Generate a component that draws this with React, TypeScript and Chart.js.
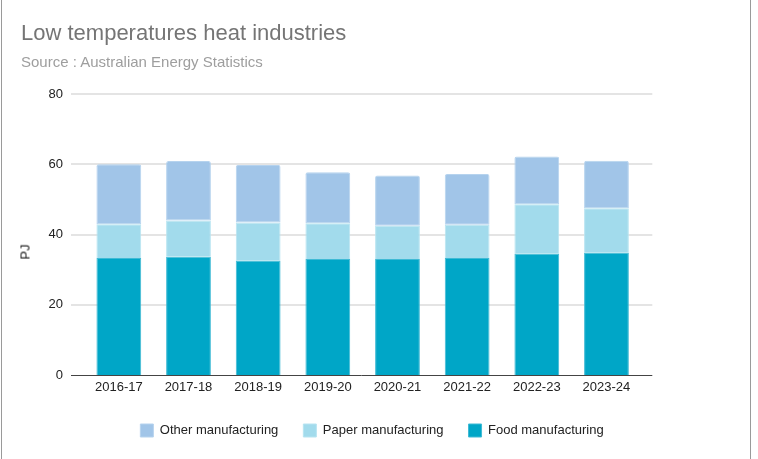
import { useEffect, useRef } from "react";
import { Chart, registerables } from "chart.js";

Chart.register(...registerables);

const years = ["2016-17", "2017-18", "2018-19", "2019-20", "2020-21", "2021-22", "2022-23", "2023-24"];
const food = [33.3, 33.7, 32.6, 33.0, 33.0, 33.3, 34.6, 34.9];
const paper = [9.6, 10.3, 10.8, 10.2, 9.5, 9.5, 14.0, 12.6];
const other = [17.1, 16.9, 16.4, 14.5, 14.3, 14.4, 13.6, 13.5];
const yMax = 80;
const yStep = 20;

const FONT = '"Liberation Sans", Arial, sans-serif';

// horizontal grid lines run a little past the bars on both sides
const gridPlugin = {
  id: "extendedGrid",
  beforeDatasetsDraw(chart: any) {
    const { ctx, chartArea, scales } = chart;
    const y = scales.y;
    ctx.save();
    ctx.strokeStyle = "#e4e4e4";
    ctx.lineWidth = 2;
    y.ticks.forEach((t: any) => {
      if (t.value === 0) return;
      const py = Math.round(y.getPixelForValue(t.value));
      ctx.beginPath();
      ctx.moveTo(chartArea.left - 13, py);
      ctx.lineTo(chartArea.right + 11, py);
      ctx.stroke();
    });
    ctx.restore();
  },
  afterDatasetsDraw(chart: any) {
    const { ctx, chartArea, scales } = chart;
    const py = Math.round(scales.y.getPixelForValue(0)) + 0.5;
    ctx.save();
    ctx.strokeStyle = "#444";
    ctx.lineWidth = 1;
    ctx.beginPath();
    ctx.moveTo(chartArea.left - 13, py);
    ctx.lineTo(chartArea.right + 11, py);
    ctx.stroke();
    ctx.restore();
  },
};

export default function App() {
  const canvasRef = useRef<HTMLCanvasElement>(null);

  useEffect(() => {
    if (!canvasRef.current) return;
    const chart = new Chart(canvasRef.current, {
      type: "bar",
      data: {
        labels: years,
        datasets: [
          {
            label: "Food manufacturing",
            data: food,
            backgroundColor: "#00a6c7",
            borderColor: "#3fbad5",
            borderWidth: 1,
          },
          {
            label: "Paper manufacturing",
            data: paper,
            backgroundColor: "#a2dbec",
            borderColor: "#b8e4f1",
            borderWidth: 1,
          },
          {
            label: "Other manufacturing",
            data: other,
            backgroundColor: "#a1c5e8",
            borderColor: "#b6d3ee",
            borderWidth: 1,
            borderRadius: { topLeft: 2, topRight: 2, bottomLeft: 0, bottomRight: 0 },
            borderSkipped: false,
          },
        ],
      },
      options: {
        animation: false,
        responsive: true,
        maintainAspectRatio: false,
        layout: { padding: { top: 94, bottom: 12, left: 0, right: 8 } },
        datasets: { bar: { categoryPercentage: 1, barPercentage: 0.643 } },
        plugins: {
          tooltip: { enabled: false },
          legend: {
            position: "bottom",
            reverse: true,
            labels: {
              boxWidth: 13,
              boxHeight: 13,
              padding: 25,
              color: "#222",
              font: { family: FONT, size: 13 },
            },
          },
        },
        scales: {
          x: {
            stacked: true,
            grid: { display: false, drawTicks: false },
            border: { display: false },
            ticks: { color: "#222", font: { family: FONT, size: 13 }, padding: 5, maxRotation: 0, autoSkip: false },
            afterFit: (s: any) => { s.height = 24; },
          },
          y: {
            stacked: true,
            min: 0,
            max: yMax,
            grid: { display: false, drawTicks: false },
            border: { display: false },
            ticks: { stepSize: yStep, color: "#222", font: { family: FONT, size: 13 }, padding: 21 },
            afterFit: (s: any) => { s.width = 82; },
          },
          y2: {
            position: "right",
            min: 0,
            max: yMax,
            grid: { display: false, drawTicks: false },
            border: { display: false },
            ticks: { display: false },
            afterFit: (s: any) => { s.width = 100.7; },
          },
        },
      },
      plugins: [gridPlugin],
    });
    return () => chart.destroy();
  }, []);

  return (
    <div style={{ position: "absolute", left: 0, top: 0, width: 758, height: 459, background: "#fff", fontFamily: FONT }}>
      <div
        style={{
          position: "absolute",
          left: 1,
          top: 0,
          width: 750,
          height: 459,
          boxSizing: "border-box",
          borderLeft: "1px solid #9a9a9a",
          borderRight: "1px solid #9a9a9a",
        }}
      >
        <div style={{ position: "absolute", left: 0, top: 0, width: 748, height: 459 }}>
          <canvas ref={canvasRef} />
        </div>
        <div style={{ position: "absolute", left: 19, top: 22, fontSize: 22, lineHeight: 1, color: "#757575", whiteSpace: "nowrap" }}>
          Low temperatures heat industries
        </div>
        <div style={{ position: "absolute", left: 19, top: 54, fontSize: 15, lineHeight: 1, color: "#9e9e9e", whiteSpace: "nowrap" }}>
          Source : Australian Energy Statistics
        </div>
        <div
          style={{
            position: "absolute",
            left: 22.5,
            top: 252,
            fontSize: 13,
            lineHeight: 1,
            color: "#222",
            whiteSpace: "nowrap",
            transform: "translate(-50%, -50%) rotate(-90deg)",
          }}
        >
          PJ
        </div>
      </div>
    </div>
  );
}
